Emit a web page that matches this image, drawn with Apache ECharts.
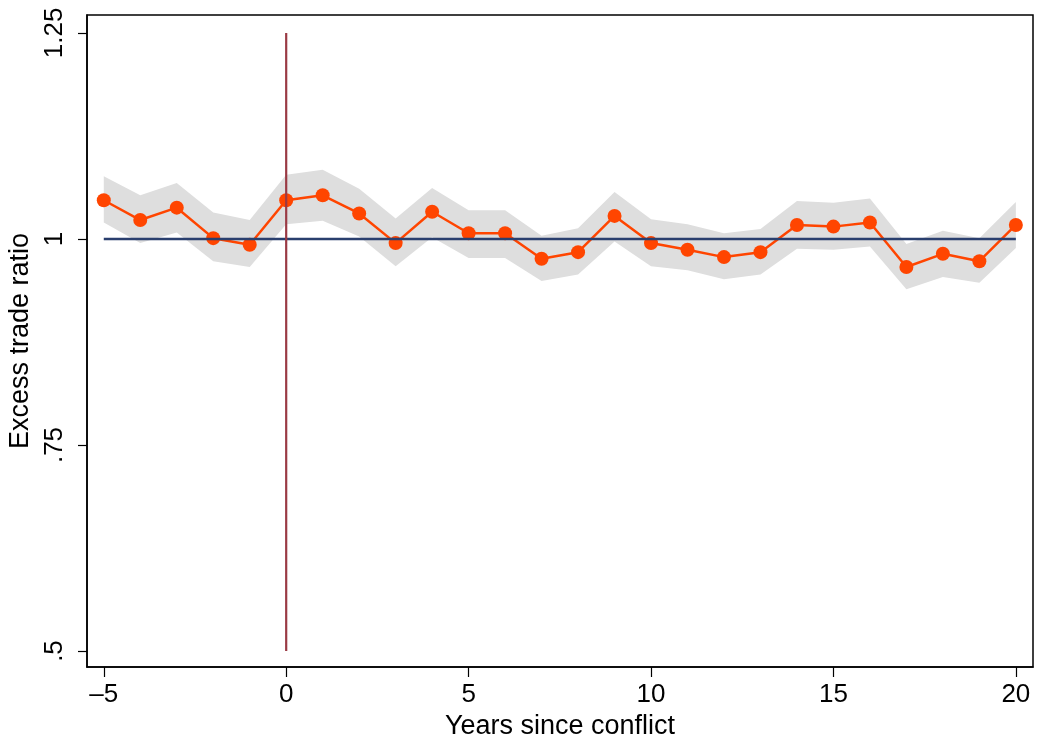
<!DOCTYPE html>
<html>
<head>
<meta charset="utf-8">
<script src="https://cdn.jsdelivr.net/npm/echarts@6/dist/echarts.min.js"></script>
<style>html,body{margin:0;padding:0;background:#fff;}#c{width:1039px;height:744px;}</style>
</head>
<body>
<div id="c"></div>
<script>
var years = [-5,-4,-3,-2,-1,0,1,2,3,4,5,6,7,8,9,10,11,12,13,14,15,16,17,18,19,20];
var ratio = [1.047,1.023,1.038,1.001,0.993,1.047,1.053,1.031,0.995,1.033,1.007,1.007,0.976,0.984,1.028,0.995,0.987,0.978,0.984,1.017,1.015,1.020,0.966,0.982,0.973,1.017];
var upper = [1.076,1.053,1.068,1.032,1.023,1.078,1.084,1.061,1.025,1.062,1.035,1.035,1.004,1.013,1.057,1.024,1.018,1.007,1.012,1.046,1.044,1.049,0.994,1.010,1.001,1.045];
var lower = [1.020,0.995,1.008,0.973,0.966,1.018,1.022,1.003,0.967,1.002,0.977,0.977,0.949,0.957,0.997,0.967,0.962,0.951,0.957,0.988,0.987,0.991,0.939,0.954,0.947,0.989];
var xTicks = [-5,0,5,10,15,20];
var yTicks = [0.5,0.75,1,1.25];
var yTickLabels = {'0.5':'.5','0.75':'.75','1':'1','1.25':'1.25'};
var refY = 1;
var conflictX = 0;

var chart = echarts.init(document.getElementById('c'), null, {renderer:'canvas'});
var font = 'Liberation Sans, Arial, Helvetica, sans-serif';
var option = {
  animation: false,
  backgroundColor: '#fff',
  grid: {left: 87, right: 6, top: 15, bottom: 77, containLabel: false, outerBoundsMode: 'none',
    show: true, borderColor: '#000', borderWidth: 1.5, backgroundColor: '#fff'},
  xAxis: {
    type: 'value', min: -5.46, max: 20.47,
    name: 'Years since conflict', nameLocation: 'middle', nameGap: 40,
    nameTextStyle: {fontFamily: font, fontSize: 27, color: '#000'},
    axisLine: {show: true, onZero: false, lineStyle: {color: '#000', width: 1.5}},
    axisTick: {show: true, length: 10, customValues: xTicks, lineStyle: {color: '#000', width: 1.2}},
    axisLabel: {customValues: xTicks, fontFamily: font, fontSize: 26, color: '#000', margin: 15,
      formatter: function(v){ return v < 0 ? '\u2013' + Math.abs(v) : String(v); }},
    splitLine: {show: false}
  },
  yAxis: {
    type: 'value', min: 0.4806, max: 1.2718,
    name: 'Excess trade ratio', nameLocation: 'middle', nameGap: 50, nameRotate: 90,
    nameTextStyle: {fontFamily: font, fontSize: 27, color: '#000'},
    axisLine: {show: true, onZero: false, lineStyle: {color: '#000', width: 1.5}},
    axisTick: {show: true, length: 9, customValues: yTicks, lineStyle: {color: '#000', width: 1.2}},
    axisLabel: {customValues: yTicks, rotate: 90, fontFamily: font, fontSize: 26, color: '#000', margin: 19,
      formatter: function(v){ var k = String(Math.round(v*100)/100); return yTickLabels[k] !== undefined ? yTickLabels[k] : k; }},
    splitLine: {show: false}
  },
  series: [
    {
      type: 'custom', z: 1, silent: true,
      data: years.map(function(y, i){ return [y, ratio[i]]; }),
      renderItem: function(params, api){
        if (params.dataIndex !== 0) return null;
        var pts = [];
        for (var i = 0; i < years.length; i++) pts.push(api.coord([years[i], upper[i]]));
        for (var j = years.length - 1; j >= 0; j--) pts.push(api.coord([years[j], lower[j]]));
        return {type: 'polygon', shape: {points: pts}, style: {fill: '#dedede', stroke: null}};
      }
    },
    {
      type: 'line', z: 3, data: years.map(function(y, i){ return [y, ratio[i]]; }),
      symbol: 'circle', symbolSize: 14, showSymbol: true,
      lineStyle: {color: '#ff4500', width: 2.5},
      itemStyle: {color: '#ff4500', borderWidth: 0}
    },
    {
      type: 'line', z: 4, data: [[years[0], refY], [years[years.length-1], refY]],
      symbol: 'none', lineStyle: {color: '#2a3f6e', width: 2.4}
    },
    {
      type: 'line', z: 5, data: [[conflictX, yTicks[0]], [conflictX, yTicks[yTicks.length-1]]],
      symbol: 'none', lineStyle: {color: '#9a3a44', width: 2.2}
    }
  ]
};
chart.setOption(option);
</script>
</body>
</html>
